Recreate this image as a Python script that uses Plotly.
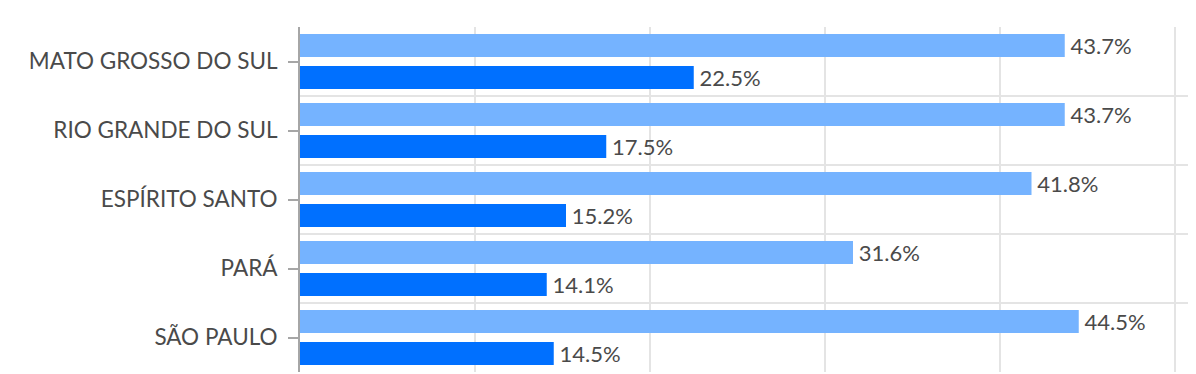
import plotly.graph_objects as go

categories = ["MATO GROSSO DO SUL", "RIO GRANDE DO SUL", "ESPÍRITO SANTO", "PARÁ", "SÃO PAULO"]
series_a = [43.7, 43.7, 41.8, 31.6, 44.5]
series_b = [22.5, 17.5, 15.2, 14.1, 14.5]
x_ticks = [0, 10, 20, 30, 40, 50]

FONT = "Lato"
TXT = "#4a4a4a"
SIZE = 22

def labels(values):
    # thin space in front gives the small gap between bar end and label
    return ["\u2009" + f"{v:.1f}%" for v in values]

fig = go.Figure()
fig.add_trace(go.Bar(
    y=categories, x=series_a, orientation="h", name="Série A",
    marker=dict(color="#75b3ff", line=dict(width=0)),
    text=labels(series_a), textposition="outside",
    constraintext="none",
    textfont=dict(family=FONT, size=SIZE, color=TXT), cliponaxis=False,
))
fig.add_trace(go.Bar(
    y=categories, x=series_b, orientation="h", name="Série B",
    marker=dict(color="#0070ff", line=dict(width=0)),
    text=labels(series_b), textposition="outside",
    constraintext="none",
    textfont=dict(family=FONT, size=SIZE, color=TXT), cliponaxis=False,
))
# invisible helper trace to carry the center tick marks axis
fig.add_trace(go.Scatter(
    y=categories, x=[0] * len(categories), yaxis="y2", mode="markers",
    marker=dict(opacity=0), hoverinfo="skip", showlegend=False,
))

# the page body adds an 8px offset, so the figure is sized to fill the rest
fig.update_layout(
    width=1188, height=366,
    margin=dict(l=292, r=0, t=19, b=2, autoexpand=False),
    paper_bgcolor="white", plot_bgcolor="white",
    barmode="group", bargap=0.07, bargroupgap=0.28,
    showlegend=False,
    xaxis=dict(
        range=[0, 51.2], tickvals=x_ticks, showticklabels=False,
        showgrid=True, gridcolor="#e4e4e4", gridwidth=1.5,
        zeroline=False, showline=False, fixedrange=True, automargin=False,
    ),
    yaxis=dict(
        type="category", categoryorder="array", categoryarray=categories,
        autorange="reversed", tickson="boundaries",
        showgrid=True, gridcolor="#e4e4e4", gridwidth=1.5,
        showline=True, linecolor="#a6a6a6", linewidth=2,
        ticks="", showticklabels=False, automargin=False,
    ),
    yaxis2=dict(
        type="category", categoryorder="array", categoryarray=categories,
        overlaying="y", matches="y", side="left",
        showgrid=False, showline=False, automargin=False,
        ticks="outside", ticklen=11, tickwidth=2, tickcolor="#a6a6a6",
        ticklabelstandoff=6,
        tickfont=dict(family=FONT, size=22.5, color=TXT),
    ),
)

fig.write_html("out.html")
